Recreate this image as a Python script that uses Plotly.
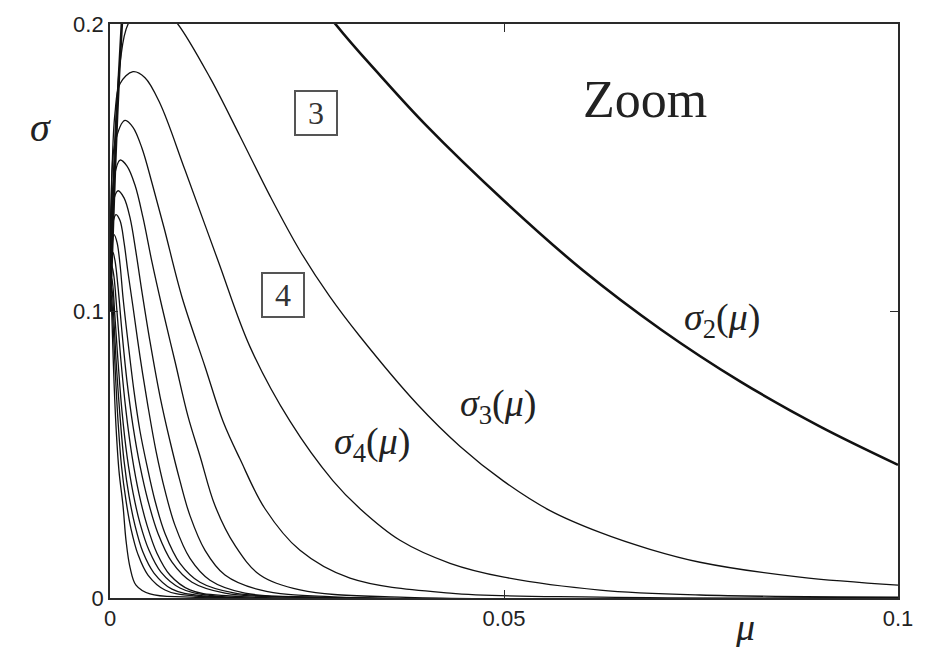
import plotly.graph_objects as go

# Stability boundaries sigma_n(mu), n = 2..15, sampled as (mu, sigma) pairs
MU_2 = [0.0, 0.0004, 0.0009, 0.0015, 0.0025, 0.005, 0.010, 0.015, 0.020, 0.0286,
        0.0343, 0.040, 0.050, 0.060, 0.070, 0.080, 0.090, 0.100]
SIG_2 = [0.100, 0.132, 0.168, 0.200, 0.240, 0.262, 0.260, 0.248, 0.232, 0.200,
         0.182, 0.1650, 0.1384, 0.1142, 0.0934, 0.0754, 0.0599, 0.0464]

MU_3 = [0.0, 0.0003, 0.0007, 0.0013, 0.0023, 0.0045, 0.0068, 0.0086, 0.01269, 0.0165,
        0.0203, 0.0241, 0.0279, 0.0317, 0.0390, 0.0444, 0.0499, 0.05584, 0.06218,
        0.06853, 0.07487, 0.08756, 0.100]
SIG_3 = [0.100, 0.135, 0.165, 0.187, 0.200, 0.207, 0.205, 0.200, 0.1813, 0.1609,
         0.1401, 0.1210, 0.1050, 0.0912, 0.0675, 0.0529, 0.0408, 0.03045, 0.02284,
         0.01696, 0.01246, 0.00727, 0.00450]

MU_4 = [0.0, 0.00025, 0.00063, 0.00127, 0.00292, 0.00444, 0.00635, 0.00952, 0.0137,
        0.01777, 0.02284, 0.0283, 0.03173, 0.0368, 0.04315, 0.050, 0.06218, 0.07487, 0.100]
SIG_4 = [0.100, 0.148, 0.1689, 0.1792, 0.1834, 0.1813, 0.1723, 0.1491, 0.1176,
         0.0875, 0.0616, 0.0408, 0.0311, 0.0201, 0.0121, 0.00727, 0.00277, 0.00104, 0.0003]

MU_5 = [0.0, 0.00013, 0.00063, 0.0019, 0.00292, 0.00406, 0.00533, 0.00685, 0.00914,
        0.01206, 0.01434, 0.0165, 0.01967, 0.02411, 0.03046, 0.04315, 0.06218, 0.100]
SIG_5 = [0.100, 0.1377, 0.1585, 0.1664, 0.1640, 0.1567, 0.1446, 0.1291, 0.1048,
         0.0806, 0.0616, 0.0484, 0.0311, 0.0166, 0.0069, 0.0017, 0.0003, 0.0]

MU_6 = [0.0, 0.00013, 0.00051, 0.00127, 0.00216, 0.00317, 0.00419, 0.00533, 0.0066,
        0.00825, 0.0099, 0.01142, 0.01332, 0.01586, 0.01904, 0.02411, 0.0368, 0.100]
SIG_6 = [0.100, 0.1308, 0.1464, 0.1526, 0.1505, 0.1439, 0.1325, 0.1170, 0.1014,
         0.0824, 0.0633, 0.0495, 0.0322, 0.0183, 0.0080, 0.0028, 0.0003, 0.0]

MU_7 = [0.0, 0.00013, 0.00038, 0.00102, 0.00178, 0.00254, 0.0033, 0.00406, 0.00508,
        0.00635, 0.00761, 0.00888, 0.01015, 0.01206, 0.01459, 0.01904, 0.02919, 0.100]
SIG_7 = [0.100, 0.1239, 0.1377, 0.1419, 0.1394, 0.1325, 0.1204, 0.1066, 0.0893,
         0.0702, 0.0547, 0.0408, 0.0287, 0.0166, 0.0080, 0.0028, 0.0003, 0.0]

MU_8 = [0.0, 0.00013, 0.00038, 0.00076, 0.00127, 0.00178, 0.00228, 0.00292, 0.00381,
        0.00482, 0.00584, 0.00698, 0.00825, 0.01015, 0.01269, 0.01713, 0.02665, 0.100]
SIG_8 = [0.100, 0.1204, 0.1308, 0.1336, 0.1315, 0.1239, 0.1135, 0.1014, 0.0841,
         0.0668, 0.0512, 0.0374, 0.0253, 0.0138, 0.0062, 0.0017, 0.0003, 0.0]

MU_9 = [0.0, 0.00025, 0.00051, 0.00089, 0.00127, 0.00165, 0.00228, 0.00305, 0.00381,
        0.0047, 0.00571, 0.00698, 0.00888, 0.01142, 0.01586, 0.02411, 0.100]
SIG_9 = [0.100, 0.1221, 0.1266, 0.1239, 0.1163, 0.1048, 0.0893, 0.0720, 0.0581,
         0.0460, 0.0339, 0.0225, 0.0121, 0.0055, 0.0017, 0.0003, 0.0]

MU_10 = [0.0, 0.00013, 0.00038, 0.00063, 0.00102, 0.00152, 0.00216, 0.00292, 0.00381,
         0.00482, 0.00609, 0.00787, 0.01041, 0.01459, 0.02284, 0.100]
SIG_10 = [0.100, 0.1152, 0.1204, 0.1176, 0.1083, 0.0927, 0.0754, 0.0599, 0.0460,
          0.0339, 0.0225, 0.0125, 0.0055, 0.0017, 0.0003, 0.0]

MU_11 = [0.0, 0.00013, 0.00029, 0.00051, 0.00089, 0.0014, 0.00203, 0.00279, 0.00368,
         0.0047, 0.00596, 0.00761, 0.01015, 0.01523, 0.100]
SIG_11 = [0.100, 0.1163, 0.1152, 0.1118, 0.0997, 0.0824, 0.0651, 0.0495, 0.0363,
          0.0253, 0.0156, 0.0080, 0.0028, 0.0007, 0.0]

MU_12 = [0.0, 0.0001, 0.00023, 0.00038, 0.00063, 0.00102, 0.00152, 0.00216, 0.00292,
         0.00381, 0.00495, 0.00647, 0.00888, 0.01332, 0.100]
SIG_12 = [0.100, 0.1090, 0.1114, 0.1083, 0.0979, 0.0824, 0.0651, 0.0495, 0.0367,
          0.0260, 0.0166, 0.0090, 0.0035, 0.0007, 0.0]

MU_13 = [0.0, 0.00009, 0.00019, 0.00032, 0.00051, 0.00082, 0.00127, 0.00178, 0.00241,
         0.00317, 0.00419, 0.00558, 0.00787, 0.01206, 0.100]
SIG_13 = [0.100, 0.1066, 0.1083, 0.1059, 0.0962, 0.0806, 0.0633, 0.0478, 0.0356,
          0.0253, 0.0159, 0.0087, 0.0031, 0.0007, 0.0]

MU_14 = [0.0, 0.00008, 0.00015, 0.00025, 0.00044, 0.0007, 0.00102, 0.00146, 0.00203,
         0.00266, 0.00355, 0.00482, 0.00698, 0.01079, 0.100]
SIG_14 = [0.100, 0.1045, 0.1055, 0.1031, 0.0927, 0.0772, 0.0616, 0.0460, 0.0339,
          0.0242, 0.0152, 0.0080, 0.0028, 0.0007, 0.0]

MU_15 = [0.0, 0.00006, 0.00011, 0.00019, 0.00032, 0.00051, 0.00076, 0.00114, 0.00165,
         0.00203, 0.00254, 0.0033, 0.00508, 0.01015, 0.100]
SIG_15 = [0.100, 0.1031, 0.1035, 0.1010, 0.0910, 0.0754, 0.0599, 0.0443, 0.0322,
          0.0201, 0.0107, 0.0045, 0.0014, 0.0003, 0.0]

CURVES = [
    (MU_2, SIG_2, 2.6),
    (MU_3, SIG_3, 1.3),
    (MU_4, SIG_4, 1.3),
    (MU_5, SIG_5, 1.3),
    (MU_6, SIG_6, 1.3),
    (MU_7, SIG_7, 1.3),
    (MU_8, SIG_8, 1.3),
    (MU_9, SIG_9, 1.3),
    (MU_10, SIG_10, 1.3),
    (MU_11, SIG_11, 1.3),
    (MU_12, SIG_12, 1.3),
    (MU_13, SIG_13, 1.3),
    (MU_14, SIG_14, 1.3),
    (MU_15, SIG_15, 1.3),
]

X_TICKS = [0, 0.05, 0.1]
X_TICK_TEXT = ["0", "0.05", "0.1"]
Y_TICKS = [0, 0.1, 0.2]
Y_TICK_TEXT = ["0", "0.1", "0.2"]

fig = go.Figure()
for mu, sig, lw in CURVES:
    fig.add_trace(go.Scatter(
        x=mu, y=sig, mode="lines",
        line=dict(color="#111111", width=lw, shape="spline", smoothing=1.0),
        hoverinfo="skip", showlegend=False,
    ))

serif = "Liberation Serif"
sans = "Liberation Sans"

# curve labels
for txt, xm, ys in [
    ("<i>σ</i><sub>2</sub>(<i>μ</i>)", 0.0777, 0.0969),
    ("<i>σ</i><sub>3</sub>(<i>μ</i>)", 0.0493, 0.0668),
    ("<i>σ</i><sub>4</sub>(<i>μ</i>)", 0.0333, 0.0536),
]:
    fig.add_annotation(x=xm, y=ys, text=txt, showarrow=False,
                       font=dict(family=serif, size=38, color="#222"))

fig.add_annotation(x=0.0679, y=0.1737, text="Zoom", showarrow=False,
                   font=dict(family=serif, size=52, color="#222"))

# boxed region numbers
for txt, xm, ys in [("3", 0.02614, 0.1689), ("4", 0.0220, 0.1057)]:
    fig.add_annotation(x=xm, y=ys, text=txt, showarrow=False,
                       font=dict(family=serif, size=32, color="#333"),
                       bordercolor="#555", borderwidth=2, borderpad=0,
                       width=40, height=42, bgcolor="white")

# axis titles
fig.add_annotation(xref="paper", yref="paper", x=-0.104, y=0.862,
                   text="<i>σ</i>", showarrow=False,
                   font=dict(family=serif, size=40, color="#222"))
fig.add_annotation(xref="paper", yref="paper", x=0.821, y=-0.090,
                   text="<i>μ</i>", showarrow=False,
                   font=dict(family=serif, size=38, color="#222"))

axis_common = dict(
    showgrid=False, zeroline=False,
    showline=True, linecolor="#2a2a2a", linewidth=1.8, mirror="allticks",
    ticks="inside", ticklen=8, tickwidth=1, tickcolor="#2a2a2a",
    tickfont=dict(family=sans, size=22, color="#222"),
)
fig.update_xaxes(range=[0, 0.1], tickvals=X_TICKS, ticktext=X_TICK_TEXT, **axis_common)
fig.update_yaxes(range=[0, 0.2], tickvals=Y_TICKS, ticktext=Y_TICK_TEXT, **axis_common)

fig.update_layout(
    width=925, height=647,
    margin=dict(l=110, r=27, t=20, b=49),
    plot_bgcolor="white", paper_bgcolor="white",
)

fig.write_html("out.html")
